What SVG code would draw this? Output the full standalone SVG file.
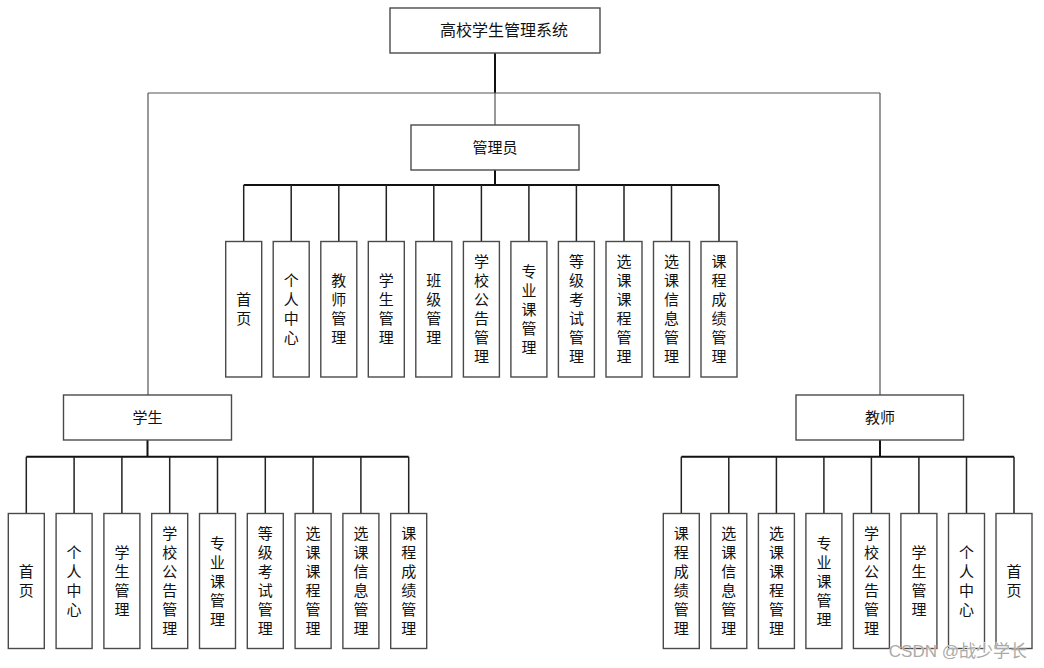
<svg xmlns="http://www.w3.org/2000/svg" width="1044" height="668" viewBox="0 0 1044 668">
<style>
.box{fill:#fff;stroke:#4a4a4a;stroke-width:1.4}
.t{font-family:"Noto Sans CJK SC","Liberation Sans",sans-serif;font-size:15px;fill:#111;text-anchor:middle}
.big{font-size:16px}
.bus{stroke:#111;stroke-width:2;fill:none}
.br{stroke:#222;stroke-width:1.5;fill:none}
.thin{stroke:#555;stroke-width:1.2;fill:none}
.wm{font-family:"Liberation Sans","Noto Sans CJK SC",sans-serif;font-size:17px;fill:#aaa;stroke:#fff;stroke-width:0.6;paint-order:stroke;text-anchor:end}
</style>
<g id="connectors">
<path class="bus" d="M495 53V93"/>
<path class="thin" d="M148 93H880M495 93V125M148 93V395M880 93V395"/>
<path class="bus" d="M495 170V185M243.7 185H719"/>
<path class="br" d="M243.7 185V241.5M291.2 185V241.5M338.8 185V241.5M386.3 185V241.5M433.8 185V241.5M481.4 185V241.5M528.9 185V241.5M576.4 185V241.5M624 185V241.5M671.5 185V241.5M719 185V241.5"/>
<path class="bus" d="M147.5 440V456.7M26.3 456.7H408.7"/>
<path class="br" d="M26.3 456.7V513.5M74.1 456.7V513.5M121.9 456.7V513.5M169.7 456.7V513.5M217.5 456.7V513.5M265.3 456.7V513.5M313.1 456.7V513.5M360.9 456.7V513.5M408.7 456.7V513.5"/>
<path class="bus" d="M880 440V456.7M681.3 456.7H1014"/>
<path class="br" d="M681.3 456.7V513.5M728.8 456.7V513.5M776.4 456.7V513.5M823.9 456.7V513.5M871.4 456.7V513.5M918.9 456.7V513.5M966.5 456.7V513.5M1014 456.7V513.5"/>
</g>
<g id="root"><rect class="box" x="390" y="8" width="210" height="45"/><text class="t big" x="504" y="36">高校学生管理系统</text></g>
<g id="admin"><rect class="box" x="411" y="125" width="168" height="45"/><text class="t" x="495" y="153">管理员</text></g>
<g id="student"><rect class="box" x="63.5" y="395" width="168" height="45"/><text class="t" x="147.5" y="423">学生</text></g>
<g id="teacher"><rect class="box" x="796" y="395" width="167.5" height="45"/><text class="t" x="880" y="423">教师</text></g>

<g id="a1"><rect class="box" x="225.7" y="241.5" width="36" height="135.5"/><text class="t" y="305"><tspan x="243.7">首</tspan><tspan x="243.7" dy="19">页</tspan></text></g>
<g id="a2"><rect class="box" x="273.2" y="241.5" width="36" height="135.5"/><text class="t" y="286"><tspan x="291.2">个</tspan><tspan x="291.2" dy="19">人</tspan><tspan x="291.2" dy="19">中</tspan><tspan x="291.2" dy="19">心</tspan></text></g>
<g id="a3"><rect class="box" x="320.8" y="241.5" width="36" height="135.5"/><text class="t" y="286"><tspan x="338.8">教</tspan><tspan x="338.8" dy="19">师</tspan><tspan x="338.8" dy="19">管</tspan><tspan x="338.8" dy="19">理</tspan></text></g>
<g id="a4"><rect class="box" x="368.3" y="241.5" width="36" height="135.5"/><text class="t" y="286"><tspan x="386.3">学</tspan><tspan x="386.3" dy="19">生</tspan><tspan x="386.3" dy="19">管</tspan><tspan x="386.3" dy="19">理</tspan></text></g>
<g id="a5"><rect class="box" x="415.8" y="241.5" width="36" height="135.5"/><text class="t" y="286"><tspan x="433.8">班</tspan><tspan x="433.8" dy="19">级</tspan><tspan x="433.8" dy="19">管</tspan><tspan x="433.8" dy="19">理</tspan></text></g>
<g id="a6"><rect class="box" x="463.4" y="241.5" width="36" height="135.5"/><text class="t" y="267"><tspan x="481.4">学</tspan><tspan x="481.4" dy="19">校</tspan><tspan x="481.4" dy="19">公</tspan><tspan x="481.4" dy="19">告</tspan><tspan x="481.4" dy="19">管</tspan><tspan x="481.4" dy="19">理</tspan></text></g>
<g id="a7"><rect class="box" x="510.9" y="241.5" width="36" height="135.5"/><text class="t" y="276.5"><tspan x="528.9">专</tspan><tspan x="528.9" dy="19">业</tspan><tspan x="528.9" dy="19">课</tspan><tspan x="528.9" dy="19">管</tspan><tspan x="528.9" dy="19">理</tspan></text></g>
<g id="a8"><rect class="box" x="558.4" y="241.5" width="36" height="135.5"/><text class="t" y="267"><tspan x="576.4">等</tspan><tspan x="576.4" dy="19">级</tspan><tspan x="576.4" dy="19">考</tspan><tspan x="576.4" dy="19">试</tspan><tspan x="576.4" dy="19">管</tspan><tspan x="576.4" dy="19">理</tspan></text></g>
<g id="a9"><rect class="box" x="606" y="241.5" width="36" height="135.5"/><text class="t" y="267"><tspan x="624">选</tspan><tspan x="624" dy="19">课</tspan><tspan x="624" dy="19">课</tspan><tspan x="624" dy="19">程</tspan><tspan x="624" dy="19">管</tspan><tspan x="624" dy="19">理</tspan></text></g>
<g id="a10"><rect class="box" x="653.5" y="241.5" width="36" height="135.5"/><text class="t" y="267"><tspan x="671.5">选</tspan><tspan x="671.5" dy="19">课</tspan><tspan x="671.5" dy="19">信</tspan><tspan x="671.5" dy="19">息</tspan><tspan x="671.5" dy="19">管</tspan><tspan x="671.5" dy="19">理</tspan></text></g>
<g id="a11"><rect class="box" x="701" y="241.5" width="36" height="135.5"/><text class="t" y="267"><tspan x="719">课</tspan><tspan x="719" dy="19">程</tspan><tspan x="719" dy="19">成</tspan><tspan x="719" dy="19">绩</tspan><tspan x="719" dy="19">管</tspan><tspan x="719" dy="19">理</tspan></text></g>

<g id="s1"><rect class="box" x="8.3" y="513.5" width="36" height="135"/><text class="t" y="577"><tspan x="26.3">首</tspan><tspan x="26.3" dy="19">页</tspan></text></g>
<g id="s2"><rect class="box" x="56.1" y="513.5" width="36" height="135"/><text class="t" y="558"><tspan x="74.1">个</tspan><tspan x="74.1" dy="19">人</tspan><tspan x="74.1" dy="19">中</tspan><tspan x="74.1" dy="19">心</tspan></text></g>
<g id="s3"><rect class="box" x="103.9" y="513.5" width="36" height="135"/><text class="t" y="558"><tspan x="121.9">学</tspan><tspan x="121.9" dy="19">生</tspan><tspan x="121.9" dy="19">管</tspan><tspan x="121.9" dy="19">理</tspan></text></g>
<g id="s4"><rect class="box" x="151.7" y="513.5" width="36" height="135"/><text class="t" y="539"><tspan x="169.7">学</tspan><tspan x="169.7" dy="19">校</tspan><tspan x="169.7" dy="19">公</tspan><tspan x="169.7" dy="19">告</tspan><tspan x="169.7" dy="19">管</tspan><tspan x="169.7" dy="19">理</tspan></text></g>
<g id="s5"><rect class="box" x="199.5" y="513.5" width="36" height="135"/><text class="t" y="548.5"><tspan x="217.5">专</tspan><tspan x="217.5" dy="19">业</tspan><tspan x="217.5" dy="19">课</tspan><tspan x="217.5" dy="19">管</tspan><tspan x="217.5" dy="19">理</tspan></text></g>
<g id="s6"><rect class="box" x="247.3" y="513.5" width="36" height="135"/><text class="t" y="539"><tspan x="265.3">等</tspan><tspan x="265.3" dy="19">级</tspan><tspan x="265.3" dy="19">考</tspan><tspan x="265.3" dy="19">试</tspan><tspan x="265.3" dy="19">管</tspan><tspan x="265.3" dy="19">理</tspan></text></g>
<g id="s7"><rect class="box" x="295.1" y="513.5" width="36" height="135"/><text class="t" y="539"><tspan x="313.1">选</tspan><tspan x="313.1" dy="19">课</tspan><tspan x="313.1" dy="19">课</tspan><tspan x="313.1" dy="19">程</tspan><tspan x="313.1" dy="19">管</tspan><tspan x="313.1" dy="19">理</tspan></text></g>
<g id="s8"><rect class="box" x="342.9" y="513.5" width="36" height="135"/><text class="t" y="539"><tspan x="360.9">选</tspan><tspan x="360.9" dy="19">课</tspan><tspan x="360.9" dy="19">信</tspan><tspan x="360.9" dy="19">息</tspan><tspan x="360.9" dy="19">管</tspan><tspan x="360.9" dy="19">理</tspan></text></g>
<g id="s9"><rect class="box" x="390.7" y="513.5" width="36" height="135"/><text class="t" y="539"><tspan x="408.7">课</tspan><tspan x="408.7" dy="19">程</tspan><tspan x="408.7" dy="19">成</tspan><tspan x="408.7" dy="19">绩</tspan><tspan x="408.7" dy="19">管</tspan><tspan x="408.7" dy="19">理</tspan></text></g>

<g id="t1"><rect class="box" x="663.3" y="513.5" width="36" height="135"/><text class="t" y="539"><tspan x="681.3">课</tspan><tspan x="681.3" dy="19">程</tspan><tspan x="681.3" dy="19">成</tspan><tspan x="681.3" dy="19">绩</tspan><tspan x="681.3" dy="19">管</tspan><tspan x="681.3" dy="19">理</tspan></text></g>
<g id="t2"><rect class="box" x="710.8" y="513.5" width="36" height="135"/><text class="t" y="539"><tspan x="728.8">选</tspan><tspan x="728.8" dy="19">课</tspan><tspan x="728.8" dy="19">信</tspan><tspan x="728.8" dy="19">息</tspan><tspan x="728.8" dy="19">管</tspan><tspan x="728.8" dy="19">理</tspan></text></g>
<g id="t3"><rect class="box" x="758.4" y="513.5" width="36" height="135"/><text class="t" y="539"><tspan x="776.4">选</tspan><tspan x="776.4" dy="19">课</tspan><tspan x="776.4" dy="19">课</tspan><tspan x="776.4" dy="19">程</tspan><tspan x="776.4" dy="19">管</tspan><tspan x="776.4" dy="19">理</tspan></text></g>
<g id="t4"><rect class="box" x="805.9" y="513.5" width="36" height="135"/><text class="t" y="548.5"><tspan x="823.9">专</tspan><tspan x="823.9" dy="19">业</tspan><tspan x="823.9" dy="19">课</tspan><tspan x="823.9" dy="19">管</tspan><tspan x="823.9" dy="19">理</tspan></text></g>
<g id="t5"><rect class="box" x="853.4" y="513.5" width="36" height="135"/><text class="t" y="539"><tspan x="871.4">学</tspan><tspan x="871.4" dy="19">校</tspan><tspan x="871.4" dy="19">公</tspan><tspan x="871.4" dy="19">告</tspan><tspan x="871.4" dy="19">管</tspan><tspan x="871.4" dy="19">理</tspan></text></g>
<g id="t6"><rect class="box" x="900.9" y="513.5" width="36" height="135"/><text class="t" y="558"><tspan x="918.9">学</tspan><tspan x="918.9" dy="19">生</tspan><tspan x="918.9" dy="19">管</tspan><tspan x="918.9" dy="19">理</tspan></text></g>
<g id="t7"><rect class="box" x="948.5" y="513.5" width="36" height="135"/><text class="t" y="558"><tspan x="966.5">个</tspan><tspan x="966.5" dy="19">人</tspan><tspan x="966.5" dy="19">中</tspan><tspan x="966.5" dy="19">心</tspan></text></g>
<g id="t8"><rect class="box" x="996" y="513.5" width="36" height="135"/><text class="t" y="577"><tspan x="1014">首</tspan><tspan x="1014" dy="19">页</tspan></text></g>

<text class="wm" x="1027" y="657">CSDN @战少学长</text>
</svg>
